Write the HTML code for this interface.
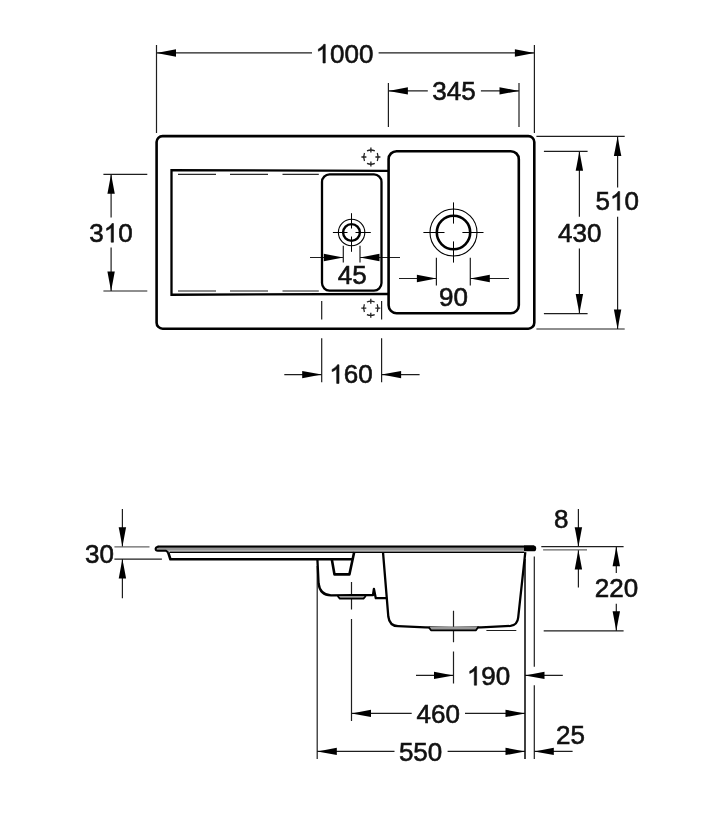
<!DOCTYPE html>
<html><head><meta charset="utf-8">
<style>
html,body{margin:0;padding:0;background:#fff;}
svg{display:block;will-change:transform;}
text{font-family:"Liberation Sans",sans-serif;font-size:26px;fill:#111;stroke:#111;stroke-width:0.6;text-anchor:start;}
</style></head>
<body>
<svg width="727" height="830" viewBox="0 0 727 830">
<defs>
<path id="ar" d="M0,0 L19.5,-3.7 L19.5,3.7 Z" fill="#000"/>
</defs>
<g stroke="#1e1e1e" stroke-width="1.2" fill="none">
<path d="M156.5,45 V133 M534.4,45 V133 M156.5,52.95 H312 M378.6,52.95 H534.4 M388.4,83 V127 M519,83 V127 M388.4,90.9 H427.8 M480.9,90.9 H519 M103.4,174.35 H147.3 M103.4,291 H147.3 M111.1,174.35 V217.4 M111.1,247.6 V291 M543.9,151.3 H587.6 M543.9,313.6 H587.6 M579.4,151.3 V216.8 M579.4,248.6 V313.6 M536.4,136.4 H624.7 M536.4,329 H624.7 M617.6,136.4 V187.6 M617.6,216.8 V329 M343.3,245.7 V262.6 M360,245.7 V262.6 M310,257.5 H343.3 M360,257.5 H400 M436.4,257.8 V285.6 M470.3,257.8 V285.6 M399,278.5 H436.4 M470.3,278.5 H509 M321.7,300.9 V319.6 M381.6,300.9 V319.6 M321.7,338.3 V382.3 M381.6,338.3 V382.3 M284.3,374.6 H321.7 M381.6,374.6 H419.6 M122.4,509 V546.8 M122.4,559.1 V598.3 M114.4,559.2 H161.9 M541.3,546.7 H623.6 M543.7,630.8 H623.6 M486.4,630.5 H516.3 M578.4,509 V546.7 M578.4,549.9 V587.4 M616.3,546.7 V573 M616.3,603.8 V630.8 M317.2,566 V759 M351.5,582 V609.4 M351.5,619 V721 M453.5,610.8 V642.3 M453.5,651.5 V683.5 M534.3,556.5 V666.7 M534.3,685.2 V759 M416,675.4 H453.5 M525,675.4 H562.8 M351.5,713.4 H411.7 M465,713.4 H525 M317.3,751.4 H394.5 M447.6,751.4 H525 M534.3,751.4 H572.6"/>
<path d="M114.4,546.8 H149.5 M543.1,549.9 H587" stroke="#666"/>
<path d="M525,559 V759" stroke="#111" stroke-width="1.6"/>
</g>
<g fill="#000">
<use href="#ar" transform="translate(156.5,52.95) rotate(0)"/>
<use href="#ar" transform="translate(534.4,52.95) rotate(180)"/>
<use href="#ar" transform="translate(388.4,90.9) rotate(0)"/>
<use href="#ar" transform="translate(519,90.9) rotate(180)"/>
<use href="#ar" transform="translate(111.1,174.35) rotate(90)"/>
<use href="#ar" transform="translate(111.1,291) rotate(-90)"/>
<use href="#ar" transform="translate(579.4,151.3) rotate(90)"/>
<use href="#ar" transform="translate(579.4,313.6) rotate(-90)"/>
<use href="#ar" transform="translate(617.6,136.4) rotate(90)"/>
<use href="#ar" transform="translate(617.6,329) rotate(-90)"/>
<use href="#ar" transform="translate(343.3,257.5) rotate(180)"/>
<use href="#ar" transform="translate(360,257.5) rotate(0)"/>
<use href="#ar" transform="translate(436.4,278.5) rotate(180)"/>
<use href="#ar" transform="translate(470.3,278.5) rotate(0)"/>
<use href="#ar" transform="translate(321.7,374.6) rotate(180)"/>
<use href="#ar" transform="translate(381.6,374.6) rotate(0)"/>
<use href="#ar" transform="translate(122.4,546.8) rotate(-90)"/>
<use href="#ar" transform="translate(122.4,559.1) rotate(90)"/>
<use href="#ar" transform="translate(578.4,546.7) rotate(-90)"/>
<use href="#ar" transform="translate(578.4,549.9) rotate(90)"/>
<use href="#ar" transform="translate(616.3,546.7) rotate(90)"/>
<use href="#ar" transform="translate(616.3,630.8) rotate(-90)"/>
<use href="#ar" transform="translate(453.5,675.4) rotate(180)"/>
<use href="#ar" transform="translate(525,675.4) rotate(0)"/>
<use href="#ar" transform="translate(351.5,713.4) rotate(0)"/>
<use href="#ar" transform="translate(525,713.4) rotate(180)"/>
<use href="#ar" transform="translate(317.3,751.4) rotate(0)"/>
<use href="#ar" transform="translate(525,751.4) rotate(180)"/>
<use href="#ar" transform="translate(534.3,751.4) rotate(0)"/>
</g>
<!-- top view sink -->
<g stroke="#000" fill="none">
<rect x="156.6" y="136.1" width="377.7" height="192.6" rx="6" stroke-width="2.6"/>
<path d="M388.5,170.8 L171.5,170.2 V294.75 L388.5,294" stroke-width="2.3" stroke-linejoin="miter"/>
<rect x="322" y="174.4" width="59.5" height="116.2" rx="7.5" stroke-width="2.3"/>
<rect x="388.6" y="151.2" width="130.2" height="162" rx="8" stroke-width="2.6"/>
<path d="M178,174.4 H216 M230,174.4 H268 M282.5,174.4 H318.8" stroke="#2a2a2a" stroke-width="1.1"/>
<path d="M178,291 H216 M230,291 H268 M282.5,291 H318.8" stroke="#666" stroke-width="1.5"/>
<circle cx="351.5" cy="232.5" r="8.4" stroke-width="2.4"/>
<circle cx="351.6" cy="232.5" r="13.2" stroke-width="1.1"/>
<path d="M332.9,232.5 H347.5 M355.5,232.5 H370.8 M351.5,213.2 V228.5 M351.5,236.5 V251.8" stroke-width="1"/>
<circle cx="453.5" cy="232.5" r="16.7" stroke-width="2.6"/>
<circle cx="453.5" cy="232.5" r="23.5" stroke-width="1.1"/>
<path d="M423.4,232.5 H444.5 M462.4,232.5 H483.5 M453.5,202.4 V223.6 M453.5,241.4 V262.6" stroke-width="1"/>
</g>
<g stroke="#222" stroke-width="1.3" fill="none">
<g transform="translate(370.9,157)">
<path d="M-3.9,-6.2 A10,10 0 0 1 3.9,-6.2 M6.4,-3.9 A10,10 0 0 1 6.4,3.9 M3.9,6.4 A10,10 0 0 1 -3.9,6.4 M-6.4,3.9 A10,10 0 0 1 -6.4,-3.9"/>
<path d="M0,-9.5 V-4.5 M9.5,0 H4.5 M0,9.5 V4.5 M-9.5,0 H-4.5"/>
</g>
<g transform="translate(370.8,308.2)">
<path d="M-3.9,-6.2 A10,10 0 0 1 3.9,-6.2 M6.4,-3.9 A10,10 0 0 1 6.4,3.9 M3.9,6.4 A10,10 0 0 1 -3.9,6.4 M-6.4,3.9 A10,10 0 0 1 -6.4,-3.9"/>
<path d="M0,-9.5 V-4.5 M9.5,0 H4.5 M0,9.5 V4.5 M-9.5,0 H-4.5"/>
</g>
</g>
<!-- side view profile -->
<g stroke="#000" fill="none" stroke-linejoin="round">
<path d="M156,549.35 H524" stroke="#959595" stroke-width="2.6"/>
<path d="M157.5,546.7 H534" stroke-width="2.2"/>
<path d="M524,545.5 H533.6 Q536.2,545.5 536.2,548.4 Q536.2,551.3 533.6,551.3 H524 Z" fill="#000" stroke="none"/>
<path d="M158.5,546.7 Q156,546.8 155.6,548.7 Q155.5,550.8 157.8,550.8 H166 L168.4,552.6" stroke-width="2"/>
<path d="M168.2,552.4 L170.4,559.25 H352" stroke-width="2.6"/>
<path d="M169.5,552.2 H524" stroke-width="1.35"/>
<path d="M331.8,559.2 L334.5,574.4 H349.4 L354.2,552" stroke-width="2.6"/>
<path d="M317.4,559.2 L318.6,583.5 Q320,595.2 331,595.3 L373,595 L373.9,588.8 L375.8,598.2 H387.1" stroke-width="2.3"/>
<path d="M337.6,596 L339.8,598.6 H363.5 L365.8,596" fill="#999" stroke-width="1.8"/>
<path d="M383,552.2 L388.3,616.5 Q389.5,626 398,626.2 Q455,629.6 510.5,625.9 Q517.5,625 518.2,617.5 L525.3,552.2" stroke-width="2.3"/>
<path d="M428.6,627 L431,630.3 H476 L478.6,626.6" fill="#999" stroke-width="1.8"/>
</g>
<path d="M763,0 H583 V1147 Q518,1085 412,1023 Q306,961 222,930 V1104 Q373,1175 486,1276 Q599,1377 646,1472 H763 Z" transform="translate(315.58,63) scale(0.012695,-0.012695)" fill="#111" stroke="#111" stroke-width="0.6" vector-effect="non-scaling-stroke"/>
<text x="330.04" y="63">0</text>
<text x="344.5" y="63">0</text>
<text x="358.96" y="63">0</text>
<text x="432.31" y="99.7">3</text>
<text x="446.77" y="99.7">4</text>
<text x="461.23" y="99.7">5</text>
<text x="89.31" y="242.2">3</text>
<path d="M763,0 H583 V1147 Q518,1085 412,1023 Q306,961 222,930 V1104 Q373,1175 486,1276 Q599,1377 646,1472 H763 Z" transform="translate(103.77,242.2) scale(0.012695,-0.012695)" fill="#111" stroke="#111" stroke-width="0.6" vector-effect="non-scaling-stroke"/>
<text x="118.23" y="242.2">0</text>
<text x="558.01" y="242">4</text>
<text x="572.47" y="242">3</text>
<text x="586.93" y="242">0</text>
<text x="595.51" y="210.2">5</text>
<path d="M763,0 H583 V1147 Q518,1085 412,1023 Q306,961 222,930 V1104 Q373,1175 486,1276 Q599,1377 646,1472 H763 Z" transform="translate(609.97,210.2) scale(0.012695,-0.012695)" fill="#111" stroke="#111" stroke-width="0.6" vector-effect="non-scaling-stroke"/>
<text x="624.43" y="210.2">0</text>
<text x="337.84" y="283.7">4</text>
<text x="352.3" y="283.7">5</text>
<text x="438.94" y="306.3">9</text>
<text x="453.4" y="306.3">0</text>
<path d="M763,0 H583 V1147 Q518,1085 412,1023 Q306,961 222,930 V1104 Q373,1175 486,1276 Q599,1377 646,1472 H763 Z" transform="translate(329.31,383.4) scale(0.012695,-0.012695)" fill="#111" stroke="#111" stroke-width="0.6" vector-effect="non-scaling-stroke"/>
<text x="343.77" y="383.4">6</text>
<text x="358.23" y="383.4">0</text>
<text x="85.04" y="563">3</text>
<text x="99.5" y="563">0</text>
<text x="553.97" y="527.7">8</text>
<text x="594.71" y="597.1">2</text>
<text x="609.17" y="597.1">2</text>
<text x="623.63" y="597.1">0</text>
<path d="M763,0 H583 V1147 Q518,1085 412,1023 Q306,961 222,930 V1104 Q373,1175 486,1276 Q599,1377 646,1472 H763 Z" transform="translate(466.91,685.2) scale(0.012695,-0.012695)" fill="#111" stroke="#111" stroke-width="0.6" vector-effect="non-scaling-stroke"/>
<text x="481.37" y="685.2">9</text>
<text x="495.83" y="685.2">0</text>
<text x="416.51" y="723">4</text>
<text x="430.97" y="723">6</text>
<text x="445.43" y="723">0</text>
<text x="398.91" y="761.2">5</text>
<text x="413.37" y="761.2">5</text>
<text x="427.83" y="761.2">0</text>
<text x="555.94" y="743.8">2</text>
<text x="570.4" y="743.8">5</text>
</svg>
</body></html>
